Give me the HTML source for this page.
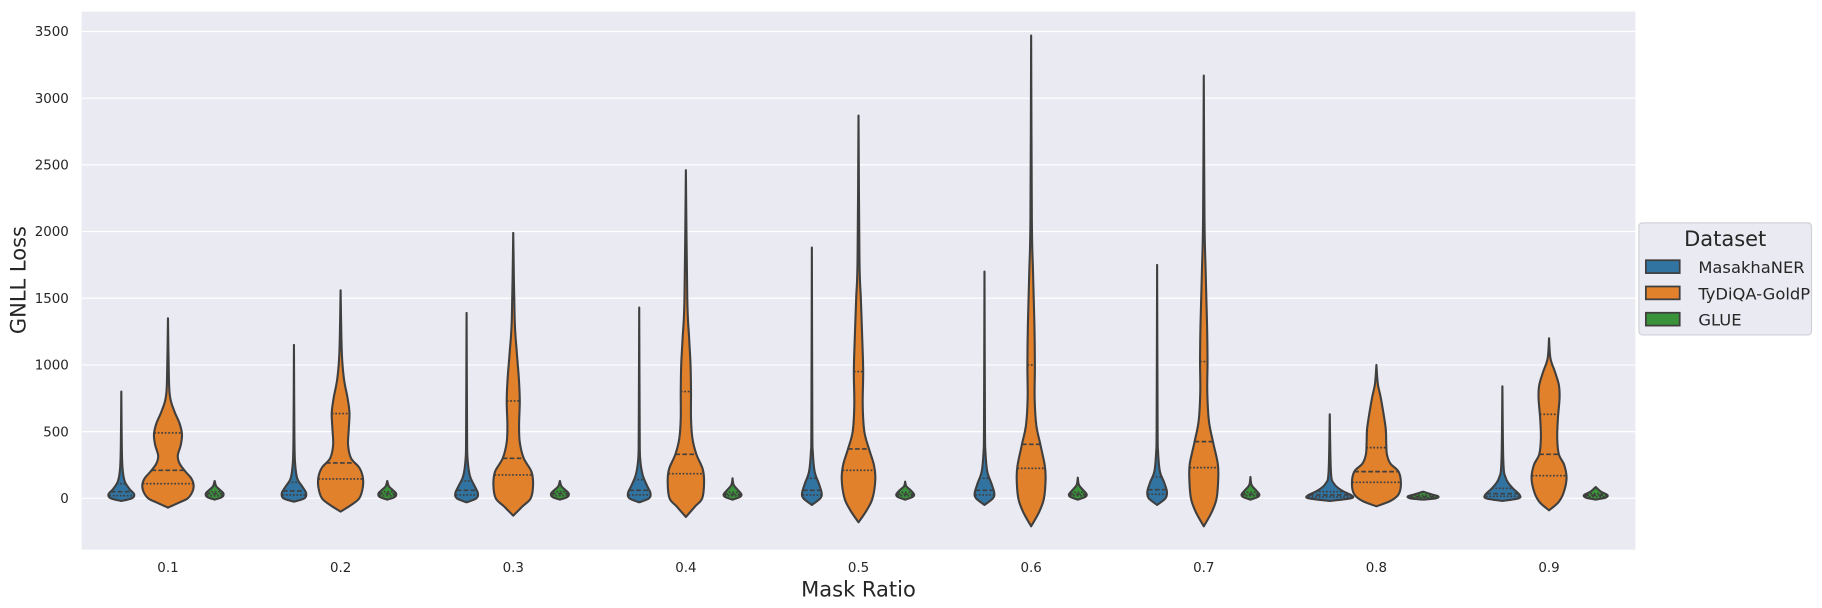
<!DOCTYPE html>
<html><head><meta charset="utf-8"><style>
html,body{margin:0;padding:0;background:#fff}
svg{display:block}
text{font-family:"DejaVu Sans","Liberation Sans",sans-serif;fill:#262626}
</style></head><body>
<svg id="chart" width="1822" height="608" viewBox="0 0 1562 521" preserveAspectRatio="none" xmlns="http://www.w3.org/2000/svg">
<rect x="70" y="10" width="1332" height="461" fill="#eaeaf2"/>
<g id="grid"></g>
<g id="violins"></g>
<g id="axes"></g>
<text x="22" y="240" font-size="18" text-anchor="middle" transform="rotate(-90 22 240)">GNLL Loss</text>
<text x="736" y="511" font-size="18" text-anchor="middle">Mask Ratio</text>
<g>
<rect x="1405" y="191" width="148" height="96" rx="3" fill="#eaeaf2" stroke="#d0d0d8" stroke-width="1"/>
<text x="1479" y="211" font-size="18" text-anchor="middle">Dataset</text>
<g><rect x="1411" y="223" width="29" height="11" fill="#3274a1" stroke="#3f3f3f" stroke-width="1.5"/><text x="1456" y="234" font-size="14">MasakhaNER</text></g>
<g><rect x="1411" y="245.5" width="29" height="11" fill="#e1812c" stroke="#3f3f3f" stroke-width="1.5"/><text x="1456" y="256.5" font-size="14">TyDiQA-GoldP</text></g>
<g><rect x="1411" y="268" width="29" height="11" fill="#3a923a" stroke="#3f3f3f" stroke-width="1.5"/><text x="1456" y="279" font-size="14">GLUE</text></g>
</g>
</svg>
<script>
const categories = ["0.1","0.2","0.3","0.4","0.5","0.6","0.7","0.8","0.9"];
const seriesNames = ["MasakhaNER","TyDiQA-GoldP","GLUE"];
const yTicks = [0,500,1000,1500,2000,2500,3000,3500];
// density knots: [value, relative half-width]
const blueShapes = [
 [[-20,0],[0,0.45],[30,0.55],[70,0.35],[130,0.14],[230,0.05],[400,0.02],[800,0]],
 [[-25,0],[0,0.45],[40,0.52],[90,0.35],[150,0.14],[260,0.05],[450,0.02],[1150,0]],
 [[-30,0],[0,0.42],[40,0.48],[100,0.32],[170,0.14],[300,0.04],[500,0.02],[1390,0]],
 [[-30,0],[0,0.42],[40,0.48],[100,0.32],[180,0.14],[300,0.04],[500,0.02],[1430,0]],
 [[-50,0],[0,0.36],[40,0.42],[110,0.3],[200,0.12],[350,0.04],[550,0.02],[1880,0]],
 [[-50,0],[0,0.36],[40,0.42],[110,0.3],[200,0.12],[350,0.04],[550,0.02],[1700,0]],
 [[-50,0],[0,0.36],[50,0.42],[120,0.3],[200,0.12],[350,0.04],[550,0.02],[1750,0]],
 [[-20,0],[0,0.9],[20,0.95],[60,0.5],[110,0.18],[200,0.05],[630,0]],
 [[-20,0],[0,0.7],[30,0.72],[80,0.42],[150,0.15],[280,0.04],[840,0]]
];
const orangeShapes = [
 [[-70,0],[-30,0.5],[0,0.85],[50,1.05],[100,1.1],[150,1.0],[200,0.75],[260,0.5],[320,0.42],[400,0.55],[480,0.6],[560,0.5],[650,0.28],[750,0.1],[900,0.04],[1350,0]],
 [[-100,0],[-50,0.45],[0,0.8],[80,0.95],[160,0.95],[230,0.8],[300,0.45],[400,0.32],[520,0.35],[640,0.38],[750,0.3],[900,0.14],[1100,0.05],[1560,0]],
 [[-130,0],[-60,0.4],[0,0.75],[100,0.85],[200,0.78],[300,0.45],[420,0.28],[550,0.25],[730,0.28],[900,0.24],[1100,0.15],[1350,0.06],[1990,0]],
 [[-140,0],[-60,0.4],[0,0.7],[120,0.78],[220,0.72],[330,0.45],[450,0.28],[600,0.22],[800,0.22],[1000,0.2],[1200,0.14],[1500,0.06],[2460,0]],
 [[-180,0],[-90,0.35],[0,0.6],[140,0.72],[250,0.66],[370,0.45],[500,0.25],[700,0.18],[950,0.2],[1200,0.16],[1500,0.1],[1800,0.04],[2870,0]],
 [[-210,0],[-100,0.35],[0,0.55],[150,0.62],[250,0.58],[400,0.4],[550,0.22],[750,0.15],[1000,0.16],[1300,0.14],[1700,0.08],[2100,0.03],[3470,0]],
 [[-210,0],[-100,0.35],[0,0.55],[150,0.62],[260,0.6],[420,0.4],[580,0.22],[800,0.15],[1030,0.16],[1300,0.14],[1700,0.08],[2100,0.03],[3170,0]],
 [[-60,0],[-20,0.6],[30,0.95],[110,1.05],[200,0.95],[260,0.6],[330,0.45],[420,0.42],[520,0.4],[640,0.3],[760,0.18],[860,0.06],[1000,0]],
 [[-90,0],[-30,0.4],[40,0.62],[150,0.75],[250,0.65],[330,0.42],[450,0.35],[600,0.38],[750,0.45],[850,0.42],[950,0.25],[1050,0.06],[1200,0]]
];
const greenShapes = [
 [[-10,0],[10,0.32],[35,0.38],[60,0.25],[90,0.07],[130,0]],
 [[-10,0],[10,0.32],[35,0.38],[60,0.25],[90,0.07],[130,0]],
 [[-10,0],[10,0.32],[35,0.38],[60,0.25],[90,0.07],[130,0]],
 [[-10,0],[10,0.32],[30,0.38],[60,0.24],[100,0.05],[150,0]],
 [[-10,0],[10,0.32],[30,0.38],[60,0.24],[90,0.05],[125,0]],
 [[-10,0],[10,0.32],[30,0.38],[60,0.24],[100,0.05],[155,0]],
 [[-10,0],[10,0.32],[30,0.38],[60,0.24],[100,0.05],[160,0]],
 [[-10,0],[0,0.55],[15,0.65],[30,0.35],[50,0]],
 [[-10,0],[5,0.42],[25,0.5],[50,0.22],[85,0]]
];
// quartiles [q1, median, q3]
const blueQuartiles = [[20,50,110],[25,55,120],[25,60,130],[25,60,140],[25,60,150],[25,60,150],[30,65,160],[10,25,50],[15,35,75]];
const orangeQuartiles = [[110,210,490],[145,265,635],[175,300,730],[185,330,800],[210,370,950],[225,405,1000],[230,425,1025],[120,200,380],[170,330,630]];
const greenQuartiles = [[20,35,50],[20,35,50],[20,35,50],[20,30,45],[20,30,45],[20,30,45],[20,30,45],[5,12,22],[12,22,35]];

const X0=70, X1=1402, Y0=10, Y1=471;
const yScale = v => 427 - v*(400/3500);
const xBand = i => X0 + (X1-X0)/categories.length*(i+0.5);
const offsets=[-40,0,40];
const colors=["#3274a1","#e1812c","#3a923a"];
const W=20;
const NS="http://www.w3.org/2000/svg";
const grid=document.getElementById('grid'), vg=document.getElementById('violins'), axes=document.getElementById('axes');

yTicks.forEach(t=>{
  const y=yScale(t);
  const l=document.createElementNS(NS,'line');
  
  
  l.setAttribute('x1',X0);l.setAttribute('x2',X1);l.setAttribute('y1',y);l.setAttribute('y2',y);
  l.setAttribute('stroke','#fff');l.setAttribute('stroke-width','1');
  grid.appendChild(l);
  const tx=document.createElementNS(NS,'text');
  
  
  tx.setAttribute('x',59);tx.setAttribute('y',y+4);tx.setAttribute('font-size','11.5');tx.setAttribute('text-anchor','end');
  tx.textContent=t; axes.appendChild(tx);
});
categories.forEach((c,i)=>{
  const tx=document.createElementNS(NS,'text');
  
  
  tx.setAttribute('x',xBand(i));tx.setAttribute('y',490);tx.setAttribute('font-size','11.5');tx.setAttribute('text-anchor','middle');
  tx.textContent=c; axes.appendChild(tx);
});

function widthAt(knots,v){
  for(let k=0;k<knots.length-1;k++){
    const a=knots[k],b=knots[k+1];
    if(v>=a[0]&&v<=b[0]){return a[1]+(b[1]-a[1])*(v-a[0])/(b[0]-a[0]);}
  }
  return 0;
}
function smoothPath(pts){
  let d=`M${pts[0][0]},${pts[0][1]}`;
  for(let i=0;i<pts.length-1;i++){
    const p0=pts[Math.max(i-1,0)],p1=pts[i],p2=pts[i+1],p3=pts[Math.min(i+2,pts.length-1)];
    const c1=[p1[0]+(p2[0]-p0[0])/6,p1[1]+(p2[1]-p0[1])/6];
    const c2=[p2[0]-(p3[0]-p1[0])/6,p2[1]-(p3[1]-p1[1])/6];
    d+=` C${c1[0]},${c1[1]} ${c2[0]},${c2[1]} ${p2[0]},${p2[1]}`;
  }
  return d;
}
const allShapes=[blueShapes,orangeShapes,greenShapes];
const allQ=[blueQuartiles,orangeQuartiles,greenQuartiles];
const sNames=["masakhaner","tydiqa","glue"];
categories.forEach((c,i)=>{
  for(let s=0;s<3;s++){
    const knots=allShapes[s][i], cx=xBand(i)+offsets[s];
    const right=knots.map(k=>[cx+k[1]*W,yScale(k[0])]);
    const left=knots.slice().reverse().map(k=>[cx-k[1]*W,yScale(k[0])]);
    const d=smoothPath(right)+' L'+smoothPath(left).slice(1)+' Z';
    const p=document.createElementNS(NS,'path');
    
    
    p.setAttribute('d',d);p.setAttribute('fill',colors[s]);
    p.setAttribute('stroke','#3f3f3f');p.setAttribute('stroke-width','1.8');p.setAttribute('stroke-linejoin','round');
    vg.appendChild(p);
    allQ[s][i].forEach((q,qi)=>{
      const w=widthAt(knots,q)*W;
      const l=document.createElementNS(NS,'line');
      
      
      l.setAttribute('x1',cx-w);l.setAttribute('x2',cx+w);l.setAttribute('y1',yScale(q));l.setAttribute('y2',yScale(q));
      l.setAttribute('stroke','#3f3f3f');l.setAttribute('stroke-width','1.4');
      l.setAttribute('stroke-dasharray',qi===1?'4,2':'1.5,1.5');
      vg.appendChild(l);
    });
  }
});
</script>
</body></html>
